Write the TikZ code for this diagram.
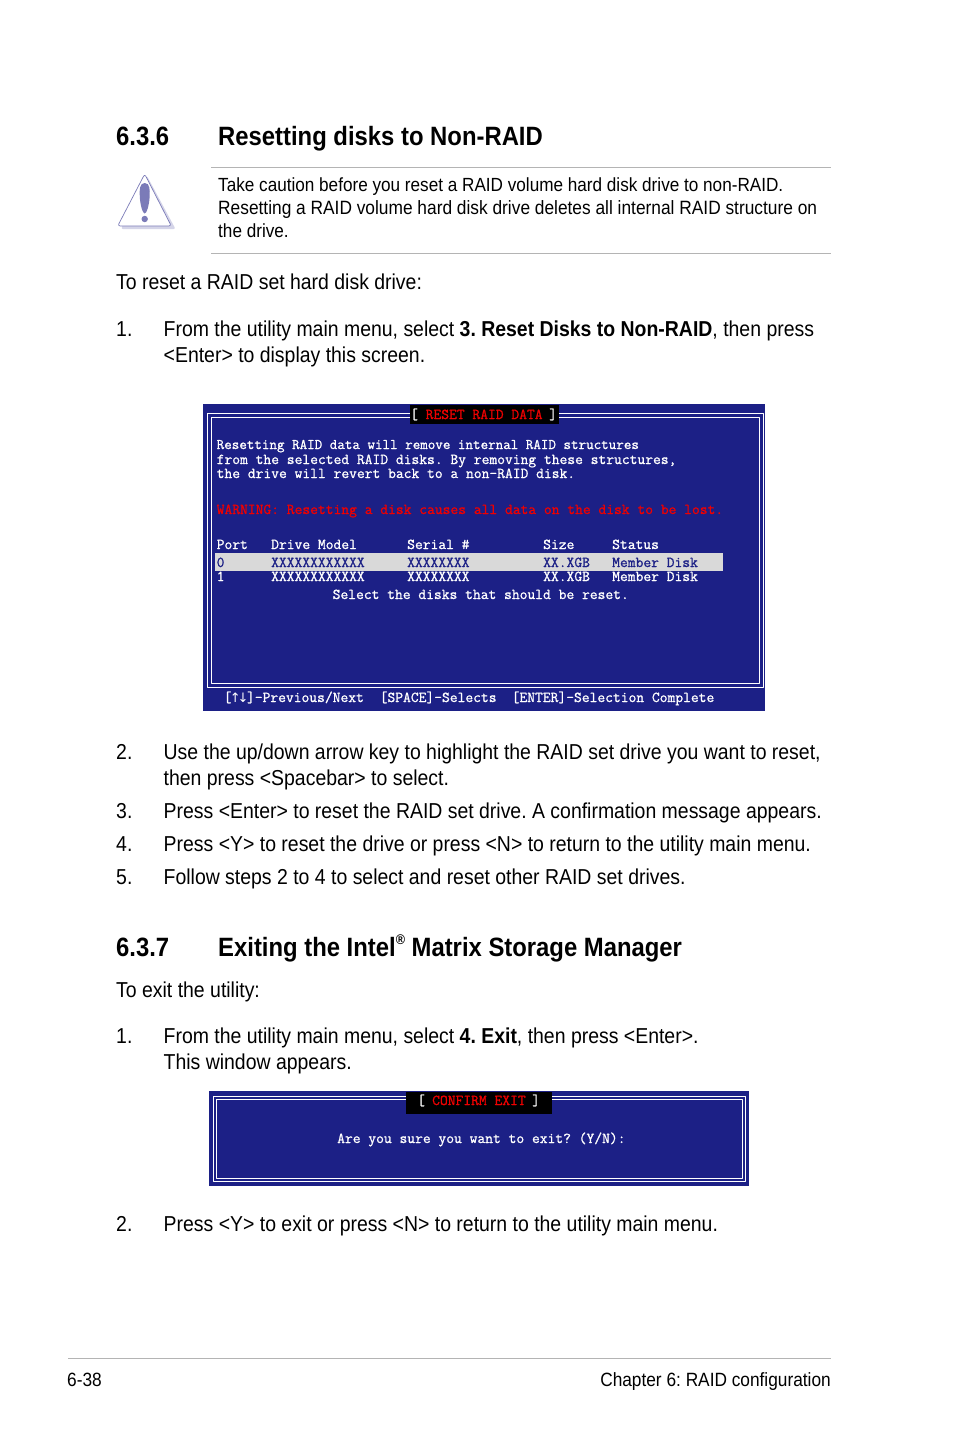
\documentclass[tikz,border=0pt]{standalone}
\usepackage{fontspec}
\setmainfont[FakeStretch=0.9]{Liberation Sans}
\newfontfamily\arrowfont{DejaVu Sans}
\newfontfamily\screenfont[FakeBold=1]{Latin Modern Mono}
\frenchspacing
\definecolor{screenblue}{HTML}{1C2086}
\definecolor{screenred}{HTML}{F00000}
\definecolor{rowgray}{HTML}{D9D9D9}
\definecolor{rulegray}{HTML}{B4B4B4}
\definecolor{iconblue}{HTML}{7B7BB8}
\definecolor{iconshadow}{HTML}{D4D4E8}
\tikzset{
	bodytext/.style={anchor=base west,inner sep=0pt,font=\fontsize{21.6}{24}\selectfont},
	notetext/.style={anchor=base west,inner sep=0pt,font=\fontsize{19.05}{24}\selectfont},
	headtext/.style={anchor=base west,inner sep=0pt,font=\fontsize{26.5}{30}\selectfont\bfseries},
	foottext/.style={inner sep=0pt,font=\fontsize{19.2}{24}\selectfont},
	screentext/.style={anchor=base west,inner sep=0pt,text=white,font=\fontsize{15.13}{16}\selectfont\screenfont},
	redtext/.style={screentext,text=screenred},
	rowtext/.style={screentext,text=screenblue},
	screenbox/.style={fill=screenblue},
	frameline/.style={draw=white,line width=1pt},
	titlebox/.style={fill=black},
	grayline/.style={draw=rulegray,line width=.8pt}
}
\newcommand{\uparr}{\makebox[7.76pt]{\arrowfont\fontsize{13}{14}\selectfont ↑}}
\newcommand{\downarr}{\makebox[7.76pt]{\arrowfont\fontsize{13}{14}\selectfont ↓}}
\begin{document}
\begin{tikzpicture}[x=1pt,y=-1pt,line join=round]
	\useasboundingbox (0,0) rectangle (954,1438);
	\fill[white] (0,0) rectangle (954,1438);
	% headings
	\node[headtext] (num1) at (116,145.5) {6.3.6};
	\node[headtext] (head1) at (218,145.5) {Resetting disks to Non-RAID};
	\node[headtext] (num2) at (116,956.5) {6.3.7};
	\node[headtext] (head2) at (218,956.5) {Exiting the Intel\raisebox{12pt}{\fontsize{14}{14}\selectfont ®} Matrix Storage Manager};
	% caution box
	\draw[grayline] (211,167)--(831,167) (211,253.5)--(831,253.5);
	\path
	(144.7,174) coordinate (T)
	(117.7,226) coordinate (U)
	(171.3,226) coordinate (V)
	;
	\fill[iconshadow,rounded corners=2pt] (147,176)--(175.5,229)--(121,229)--cycle;
	\draw[iconblue,fill=white,line width=.7pt,rounded corners=2.5pt] (T)--(V)--(U)--cycle;
	\fill[iconblue] (144.7,183) .. controls (150,183) and (150,190) .. (149.6,197) .. controls (149.2,205) and (146.7,213.5) .. (144.7,213.5) .. controls (142.7,213.5) and (140.2,205) .. (139.8,197) .. controls (139.4,190) and (139.4,183) .. (144.7,183) -- cycle;
	\fill[iconblue] (144.7,219) circle (3.2pt);
	\node[notetext] (note1) at (218,191) {Take caution before you reset a RAID volume hard disk drive to non-RAID.};
	\node[notetext,font=\fontsize{19.25}{24}\selectfont] (note2) at (218,214) {Resetting a RAID volume hard disk drive deletes all internal RAID structure on};
	\node[notetext] (note3) at (218,237.5) {the drive.};
	% body text, left column of numbers
	\foreach \y/\t [count=\i] in {
		336/1.,759/2.,818/3.,851/4.,884/5.,1043/1.,1231/2.}
	\node[bodytext] (num\i) at (116,\y) {\t};
	\node[bodytext] (intro1) at (116,289) {To reset a RAID set hard disk drive:};
	\node[bodytext] (intro2) at (116,997) {To exit the utility:};
	\foreach \y/\t [count=\i] in {
		336/{From the utility main menu, select \textbf{3. Reset Disks to Non-RAID}, then press},
		362/{<Enter> to display this screen.},
		759/{Use the up/down arrow key to highlight the RAID set drive you want to reset,},
		785/{then press <Spacebar> to select.},
		818/{Press <Enter> to reset the RAID set drive. A confirmation message appears.},
		851/{Press <Y> to reset the drive or press <N> to return to the utility main menu.},
		884/{Follow steps 2 to 4 to select and reset other RAID set drives.},
		1043/{From the utility main menu, select \textbf{4. Exit}, then press <Enter>.},
		1069/{This window appears.},
		1231/{Press <Y> to exit or press <N> to return to the utility main menu.}}
	\node[bodytext] (line\i) at (163.5,\y) {\t};
	% reset screen
	\fill[screenbox] (203,404) rectangle (765,711);
	\draw[frameline] (207,413.5) rectangle (763,687) (211,417) rectangle (759,683.5);
	\fill[titlebox] (410,405) rectangle (559,424);
	\node[screentext] (open1) at (410,419) {[};
	\node[redtext] (title1) at (425.5,419) {RESET RAID DATA};
	\node[screentext] (close1) at (549,419) {]};
	\node[screentext,font=\fontsize{14.64}{16}\selectfont\screenfont] (info1) at (216.5,449) {Resetting RAID data will remove internal RAID structures};
	\node[screentext] (info2) at (216.5,464) {from the selected RAID disks. By removing these structures,};
	\node[screentext] (info3) at (216.5,478) {the drive will revert back to a non-RAID disk.};
	\node[redtext] (warn) at (216.5,514) {WARNING: Resetting a disk causes all data on the disk to be lost.};
	\foreach \x/\t [count=\i] in {216.5/Port,271/Drive Model,407/Serial \#,543/Size,612/Status}
	\node[screentext] (col\i) at (\x,549) {\t};
	\fill[rowgray] (215,552.5) rectangle (723,571);
	\foreach \x/\t [count=\i] in {216.5/0,271/XXXXXXXXXXXX,407/XXXXXXXX,543/XX.XGB,612/Member Disk}
	{\node[rowtext] (cella\i) at (\x,567) {\t};
	\node[screentext] (cellb\i) at (\x,581) {\ifnum\i=1 1\else\t\fi};}
	\node[screentext] (hint) at (332.5,599) {Select the disks that should be reset.};
	\node[screentext] (key1) at (223.5,702) {[\uparr\downarr]-Previous/Next};
	\node[screentext] (key2) at (379.5,702) {[SPACE]-Selects};
	\node[screentext] (key3) at (511.5,702) {[ENTER]-Selection Complete};
	% exit screen
	\fill[screenbox] (209,1091) rectangle (749,1186);
	\draw[frameline] (213.5,1096.7) rectangle (745.5,1181.7) (216.5,1099.5) rectangle (742.5,1178.5);
	\fill[titlebox] (406,1092) rectangle (552,1114);
	\node[screentext] (open2) at (417,1105) {[};
	\node[redtext] (title2) at (432,1105) {CONFIRM EXIT};
	\node[screentext] (close2) at (532,1105) {]};
	\node[screentext] (ask) at (337,1143) {Are you sure you want to exit? (Y/N):};
	% page footer
	\draw[grayline] (68,1358)--(831,1358);
	\node[foottext,anchor=base west] (page) at (67,1386) {6-38};
	\node[foottext,anchor=base east] (chapter) at (831,1386) {Chapter 6: RAID configuration};
\end{tikzpicture}
\end{document}
